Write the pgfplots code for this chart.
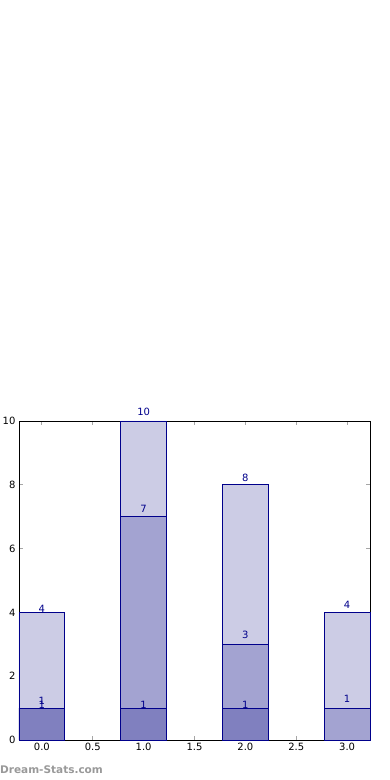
\documentclass[border=0pt]{standalone}
\usepackage{pgfplots}
\pgfplotsset{compat=1.18}
\usepackage{fontspec}
\setmainfont{DejaVu Sans}
\definecolor{cA}{HTML}{CCCCE5}
\definecolor{cB}{HTML}{A3A3D1}
\definecolor{cC}{HTML}{8080BF}
\definecolor{edge}{HTML}{00008B}
\definecolor{lab}{HTML}{00008B}
\begin{document}
\begin{tikzpicture}[x=1pt,y=1pt]
\path[use as bounding box] (0,0) rectangle (390,780);
\begin{axis}[
  at={(19pt,40pt)}, anchor=south west,
  scale only axis, width=351pt, height=319pt,
  xmin=-0.225, xmax=3.225, ymin=0, ymax=10,
  xtick={0,0.5,1,1.5,2,2.5,3}, ytick={0,2,4,6,8,10},
  tick align=inside, major tick length=4pt,
  tick style={color=gray!70, line width=0.8pt},
  axis line style={black, line width=0.8pt},
  xticklabel style={/pgf/number format/.cd, fixed, fixed zerofill, precision=1},
  yticklabel style={/pgf/number format/.cd, fixed, precision=0},
  /pgf/number format/assume math mode=true,
  tick label style={font=\fontsize{10}{12}\selectfont},
  xtick pos=both, ytick pos=both,
  clip=false,
  nodes near coords style={anchor=base, inner sep=0pt, text=lab, font=\fontsize{10}{12}\selectfont},
]
\addplot[ybar, bar width=0.45, bar shift=0pt, fill=cA, draw=edge, line width=0.7pt] coordinates {(0,4) (1,10) (2,8) (3,4)};
\addplot[ybar, bar width=0.45, bar shift=0pt, fill=cB, draw=edge, line width=0.7pt] coordinates {(0,1) (1,7) (2,3) (3,1)};
\addplot[ybar, bar width=0.45, bar shift=0pt, fill=cC, draw=edge, line width=0.7pt] coordinates {(0,1) (1,1) (2,1)};
% labels
\addplot[draw=none, mark=none, nodes near coords, point meta=explicit symbolic] coordinates {
  (0,4.0)[4] (1,10.16)[10] (2,8.09)[8] (3,4.12)[4]
  (0,1.12)[1] (1,7.12)[7] (2,3.17)[3] (3,1.19)[1]
  (0,1.0)[1] (1,1.0)[1] (2,1.0)[1]
};
\end{axis}
\node[anchor=base west, inner sep=0pt, text=gray!80, font=\fontsize{10.5}{12}\selectfont\bfseries] at (0,6) {Dream-Stats.com};
\end{tikzpicture}
\end{document}
